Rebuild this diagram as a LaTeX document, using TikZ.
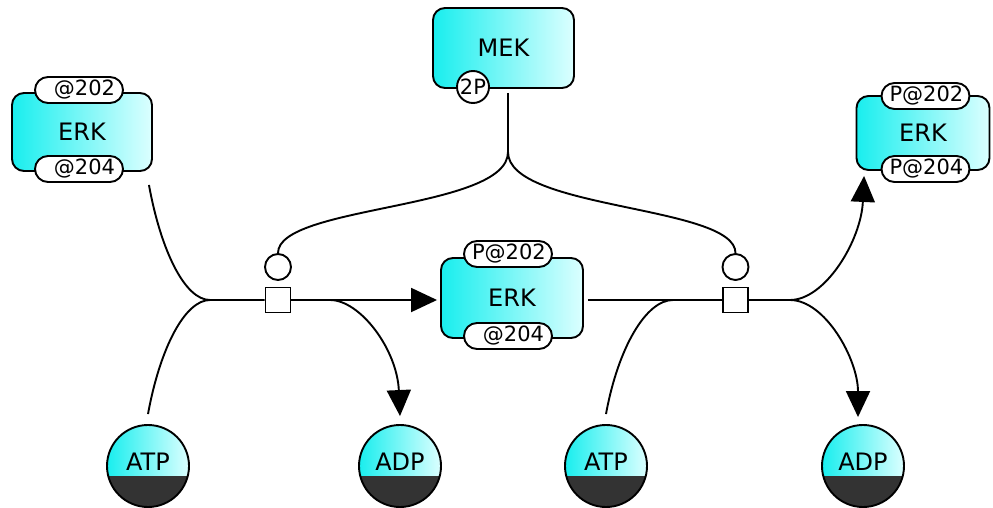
\documentclass[tikz,border=0pt]{standalone}
\usepackage{fontspec}
\setmainfont{DejaVu Sans}
\usetikzlibrary{arrows.meta,calc}
\definecolor{cyL}{RGB}{25,238,238}
\definecolor{cyR}{RGB}{220,255,255}
\definecolor{dk}{RGB}{51,51,51}
\begin{document}
\begin{tikzpicture}[x=1pt,y=-1pt,line width=1.9pt,
  entity/.style={draw, rounded corners=12pt, left color=cyL, right color=cyR, font=\fontsize{24}{28}\selectfont, inner sep=0pt},
  svar/.style={draw, fill=white, rounded corners=13pt, minimum height=26pt, text width=72pt, align=right, inner xsep=8pt, inner ysep=0pt, font=\fontsize{21}{24}\selectfont},
  metab/.style={circle, draw, minimum size=82pt, inner sep=0pt, left color=cyL, right color=cyR, font=\fontsize{24}{28}\selectfont,
    path picture={\fill[dk] ([yshift=-10pt]path picture bounding box.west) rectangle (path picture bounding box.south east);}},
  proc/.style={draw, fill=white, minimum size=25pt, inner sep=0pt},
  modc/.style={circle, draw, fill=white, minimum size=26pt, inner sep=0pt},
  arr/.style={-{Triangle[length=26pt,width=24pt]}}
]
\useasboundingbox (0,0) rectangle (993,508);

% entities
\node[entity, minimum width=140pt, minimum height=78pt] (lerk) at (82,132) {ERK};
\node[svar] (lerk202) at (79,90) {@202};
\node[svar] (lerk204) at (79,169) {@204};

\node[entity, minimum width=141pt, minimum height=80pt] (mek) at (503.5,48) {MEK};
\node[circle, draw, fill=white, minimum size=32pt, inner sep=0pt, font=\fontsize{21}{23}\selectfont] (mekp) at (473,87) {2P};

\node[entity, minimum width=142pt, minimum height=80pt] (merk) at (512,298) {ERK};
\node[svar] (merk202) at (508,254) {P@202};
\node[svar] (merk204) at (508,336) {@204};

\node[entity, minimum width=133pt, minimum height=74pt] (rerk) at (923,133) {ERK};
\node[svar] (rerk202) at (925.5,96) {P@202};
\node[svar] (rerk204) at (925.5,169) {P@204};

% processes
\node[proc] (lsq) at (278,300) {};
\node[modc] (lmod) at (278,267) {};
\node[proc] (rsq) at (735.5,300) {};
\node[modc] (rmod) at (735.5,267) {};

% metabolites
\node[metab] (latp) at (148,466) {\raisebox{9pt}{ATP}};
\node[metab] (ladp) at (400,466) {\raisebox{9pt}{ADP}};
\node[metab] (ratp) at (606,466) {\raisebox{9pt}{ATP}};
\node[metab] (radp) at (863,466) {\raisebox{9pt}{ADP}};

% junctions
\coordinate (j1) at (210,300);
\coordinate (j2) at (330,300);
\coordinate (j3) at (508,152);
\coordinate (j4) at (673,300);
\coordinate (j5) at (790,300);

% connectors
\draw ([xshift=-4pt,yshift=-13pt]lerk.south east) .. controls +(12,66) and +(-25,0) .. (j1) -- (lsq.west);
\draw ([yshift=10pt]latp.north) .. controls +(12,-66) and +(-25,0) .. (j1);
\draw[arr] (lsq.east) -- ([xshift=-3pt]merk.west |- lsq.east);
\draw[arr] (j2) .. controls +(30,0) and +(-3,-67) .. ([yshift=8pt]ladp.north);

\draw ($(j3 |- mek.south)+(0,4)$) -- (j3);
\draw (j3) .. controls +(0,58) and +(0,-48) .. (lmod.north);
\draw (j3) .. controls +(0,58) and +(0,-48) .. (rmod.north);

\draw ([xshift=4pt]merk.east |- rsq.west) -- (rsq.west);
\draw ([yshift=10pt]ratp.north) .. controls +(12,-66) and +(-27,0) .. (j4);
\draw (rsq.east) -- (j5);
\draw[arr] (j5) .. controls +(35,0) and +(-3,65) .. ([xshift=8.5pt,yshift=-5pt]rerk.south west);
\draw[arr] (j5) .. controls +(35,0) and +(0,-58) .. ([xshift=-5pt,yshift=7pt]radp.north);
\end{tikzpicture}
\end{document}
